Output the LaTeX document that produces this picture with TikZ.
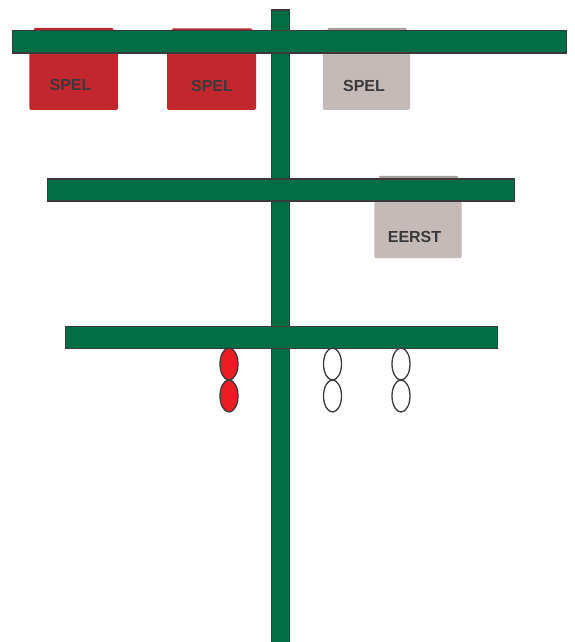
\documentclass[tikz,border=0pt]{standalone}
\usepackage{fontspec}
\setmainfont{Liberation Sans}
\usetikzlibrary{shapes.geometric}
\definecolor{bargreen}{HTML}{006D45}
\definecolor{edge}{HTML}{3A3A3C}
\definecolor{boxred}{HTML}{C1272D}
\definecolor{boxredtop}{HTML}{B02A30}
\definecolor{boxgray}{HTML}{C4BAB7}
\definecolor{boxgraytop}{HTML}{A89E9B}
\definecolor{beadred}{HTML}{ED1C24}
\definecolor{txt}{HTML}{3A3A3C}
\tikzset{
  bar/.style={rectangle, draw=edge, fill=bargreen, line width=1.3pt, inner sep=0pt},
  sign/.style={rectangle, rounded corners=1.5pt, inner sep=0pt},
  signtop/.style={rectangle, rounded corners=1pt, inner sep=0pt},
  label/.style={text=txt, inner sep=0pt, font=\bfseries\fontsize{16}{18}\selectfont},
  bead/.style={ellipse, draw=edge, line width=1.3pt, inner sep=0pt,
    minimum width=18pt, minimum height=32pt},
}
\begin{document}
\begin{tikzpicture}[x=1pt,y=-1pt]
\useasboundingbox (0,0) rectangle (575,642);
% pole
\node[bar, minimum width=17.6pt, minimum height=640pt, anchor=north] (pole) at (280.5,9.3) {};
% signs row 1 (behind top bar)
\node[signtop, fill=boxredtop, minimum width=79pt, minimum height=8pt, anchor=north] (t1) at (73.5,27.7) {};
\node[sign, fill=boxred, minimum width=88.7pt, minimum height=80pt, anchor=south] (s1) at (73.6,110) {};
\node[label] (l1) at (70.5,84.5) {SPEL};
\node[signtop, fill=boxredtop, minimum width=80pt, minimum height=8pt, anchor=north] (t2) at (212,28.3) {};
\node[sign, fill=boxred, minimum width=89pt, minimum height=80pt, anchor=south] (s2) at (211.5,110) {};
\node[label] (l2) at (212,86) {SPEL};
\node[signtop, fill=boxgraytop, minimum width=79pt, minimum height=8pt, anchor=north] (t3) at (367.2,27.7) {};
\node[sign, fill=boxgray, minimum width=87.3pt, minimum height=80pt, anchor=south] (s3) at (366.4,110) {};
\node[label] (l3) at (364,86) {SPEL};
% sign row 2
\node[signtop, fill=boxgraytop, minimum width=79pt, minimum height=8pt, anchor=north] (t4) at (418.5,175.7) {};
\node[sign, fill=boxgray, minimum width=87.4pt, minimum height=78pt, anchor=south] (s4) at (418,258.3) {};
\node[label] (l4) at (414.5,237) {EERST};
% bars
\node[bar, minimum width=553.7pt, minimum height=22.3pt, anchor=north west] (bar1) at (12,30) {};
\node[bar, minimum width=467.3pt, minimum height=22pt, anchor=north west] (bar2) at (46.7,178.3) {};
\node[bar, minimum width=432pt, minimum height=22pt, anchor=north west] (bar3) at (64.5,326) {};
% beads
\node[bead, fill=beadred] (r1) at (229,364) {};
\node[bead, fill=beadred] (r2) at (229,396) {};
\node[bead, fill=white] (w1) at (332.5,364) {};
\node[bead, fill=white] (w2) at (332.5,396) {};
\node[bead, fill=white] (w3) at (401,364) {};
\node[bead, fill=white] (w4) at (401,396) {};
\end{tikzpicture}
\end{document}
